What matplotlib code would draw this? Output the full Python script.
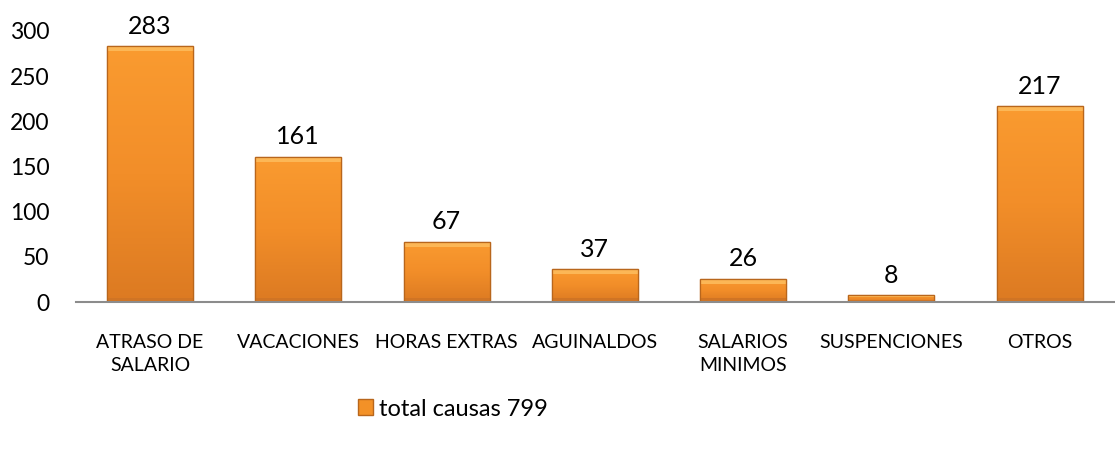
import numpy as np
import matplotlib
matplotlib.use('Agg')
from matplotlib import pyplot as plt
from matplotlib.patches import Rectangle

categorias = ['ATRASO DE\nSALARIO', 'VACACIONES', 'HORAS EXTRAS', 'AGUINALDOS',
              'SALARIOS\nMINIMOS', 'SUSPENCIONES', 'OTROS']
valores = [283, 161, 67, 37, 26, 8, 217]
serie = 'total causas 799'

plt.rcParams['font.family'] = ['Lato', 'DejaVu Sans']

fig = plt.figure(figsize=(11.15, 4.53), dpi=100)
ax = fig.add_axes([0.068, 0.333, 0.931, 0.599])

x = np.arange(len(categorias))
bars = ax.bar(x, valores, width=0.58, color='#F39127', edgecolor='#B8661C',
              linewidth=0.9, label=serie, zorder=2)

# gradiente para imitar el relieve de Excel
grad = np.linspace(0, 1, 256).reshape(-1, 1)
cmap = matplotlib.colors.LinearSegmentedColormap.from_list(
    'nar', ['#DC7A22', '#F28E29', '#FA9B30'])
px = 300 / 271.0  # unidades de datos por pixel
for b in bars:
    x0, w, h = b.get_x(), b.get_width(), b.get_height()
    im = ax.imshow(grad, cmap=cmap, aspect='auto', origin='lower',
                   extent=[x0, x0 + w, 0, h], zorder=3)
    im.set_clip_path(b)
    # franja superior clara
    s = min(5 * px, h * 0.3)
    ax.add_patch(Rectangle((x0, h - s), w, s, facecolor='#FCB756',
                           edgecolor='none', zorder=4))
    # franja inferior oscura
    ax.add_patch(Rectangle((x0, 0), w, min(4 * px, h * 0.25), facecolor='#D07424',
                           edgecolor='none', zorder=4))
    ax.add_patch(Rectangle((x0, 0), w, h, fill=False, edgecolor='#B8661C',
                           linewidth=0.9, zorder=5))

for xi, v in zip(x, valores):
    ax.text(xi, v + 9, str(v), ha='center', va='bottom', fontsize=18, color='#000000')

ax.set_xlim(-0.5, len(categorias) - 0.5)
ax.set_ylim(0, 300)
ax.set_yticks(range(0, 301, 50))
ax.set_xticks(x)
ax.set_xticklabels(categorias, fontsize=14, linespacing=1.45)
ax.tick_params(axis='y', length=0, labelsize=16.5, pad=19)
ax.tick_params(axis='x', length=0, pad=23)
for s in ['top', 'right', 'left']:
    ax.spines[s].set_visible(False)
ax.spines['bottom'].set_color('#8C8C8C')
ax.spines['bottom'].set_linewidth(1.5)
ax.spines['bottom'].set_zorder(6)

leg = fig.legend(handles=[Rectangle((0, 0), 1, 1, facecolor='#F39127', edgecolor='#B8661C')],
                 labels=[serie], loc='center', bbox_to_anchor=(0.406, 0.097),
                 frameon=False, fontsize=17, handlelength=0.65, handleheight=0.65,
                 handletextpad=0.25)

fig.savefig('out.png', dpi=100)
